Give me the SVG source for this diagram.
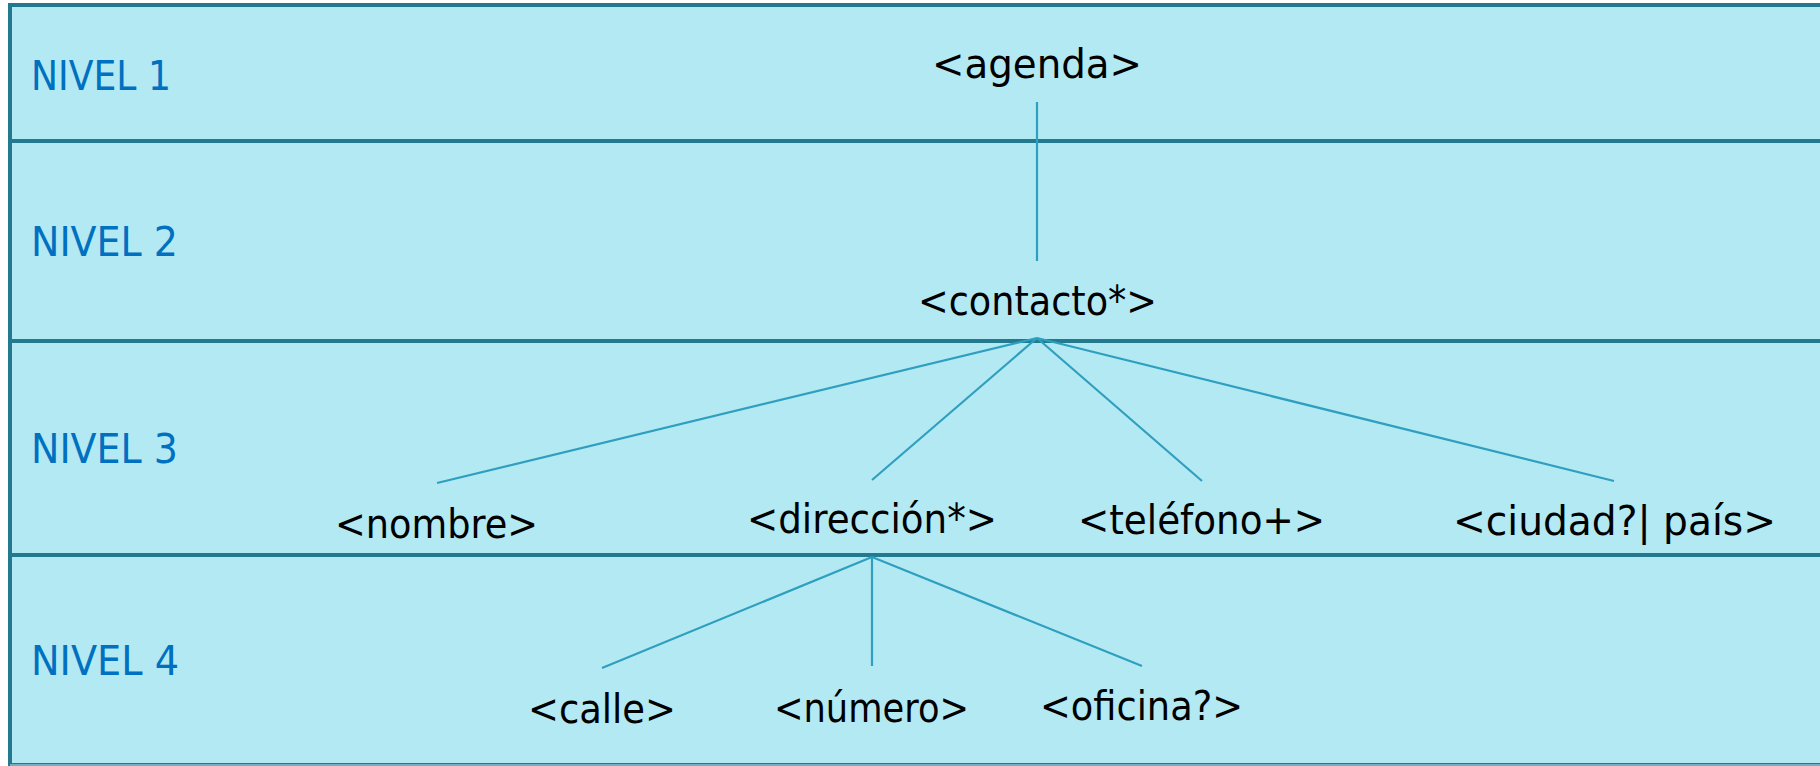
<svg xmlns="http://www.w3.org/2000/svg" width="1820" height="766" viewBox="0 0 1820 766">
<style>
.lvl{font-family:"DejaVu Sans","Liberation Sans",sans-serif;font-size:40px;fill:#0070C0}
.lbl{font-family:"DejaVu Sans","Liberation Sans",sans-serif;font-size:40px;fill:#000;text-anchor:middle}
.div{stroke:#237A8E;stroke-width:4;fill:none}
.con{stroke:#2E9FBE;stroke-width:2.2;fill:none}
</style>
<rect x="0" y="0" width="1820" height="766" fill="#fff"/>
<g id="frame">
<rect x="10" y="5" width="1830" height="760" fill="#B3E9F3" stroke="#237A8E" stroke-width="4"/>
<line class="div" x1="10" y1="141" x2="1820" y2="141"/>
<line class="div" x1="10" y1="341" x2="1820" y2="341"/>
<line class="div" x1="10" y1="555" x2="1820" y2="555"/>
<line x1="10" y1="765" x2="1820" y2="765" stroke="#6FB3C3" stroke-width="2"/>
</g>
<g id="levels">
<text class="lvl" x="31" y="90" textLength="140" lengthAdjust="spacingAndGlyphs">NIVEL 1</text>
<text class="lvl" x="31" y="256" textLength="147" lengthAdjust="spacingAndGlyphs">NIVEL 2</text>
<text class="lvl" x="31" y="463" textLength="147" lengthAdjust="spacingAndGlyphs">NIVEL 3</text>
<text class="lvl" x="31" y="675" textLength="148" lengthAdjust="spacingAndGlyphs">NIVEL 4</text>
</g>
<g id="connectors">
<line class="con" x1="1037" y1="102" x2="1037" y2="261"/>
<line class="con" x1="1037" y1="338" x2="437" y2="483"/>
<line class="con" x1="1037" y1="338" x2="872" y2="480"/>
<line class="con" x1="1037" y1="338" x2="1202" y2="481"/>
<line class="con" x1="1037" y1="338" x2="1614" y2="481"/>
<line class="con" x1="872" y1="557" x2="602" y2="668"/>
<line class="con" x1="872" y1="557" x2="872" y2="666"/>
<line class="con" x1="872" y1="557" x2="1142" y2="666"/>
</g>
<g id="agenda"><text class="lbl" x="1037" y="78" textLength="210" lengthAdjust="spacingAndGlyphs">&lt;agenda&gt;</text></g>
<g id="contacto"><text class="lbl" x="1037.5" y="315" textLength="239" lengthAdjust="spacingAndGlyphs">&lt;contacto*&gt;</text></g>
<g id="nombre"><text class="lbl" x="436.5" y="538" textLength="203" lengthAdjust="spacingAndGlyphs">&lt;nombre&gt;</text></g>
<g id="direccion"><text class="lbl" x="872" y="533" textLength="250" lengthAdjust="spacingAndGlyphs">&lt;dirección*&gt;</text></g>
<g id="telefono"><text class="lbl" x="1201.5" y="534" textLength="247" lengthAdjust="spacingAndGlyphs">&lt;teléfono+&gt;</text></g>
<g id="ciudad"><text class="lbl" x="1614.5" y="535" textLength="323" lengthAdjust="spacingAndGlyphs">&lt;ciudad?| país&gt;</text></g>
<g id="calle"><text class="lbl" x="602" y="723" textLength="148" lengthAdjust="spacingAndGlyphs">&lt;calle&gt;</text></g>
<g id="numero"><text class="lbl" x="871.5" y="722" textLength="195" lengthAdjust="spacingAndGlyphs">&lt;número&gt;</text></g>
<g id="oficina"><text class="lbl" x="1141.5" y="720" textLength="203" lengthAdjust="spacingAndGlyphs">&lt;oficina?&gt;</text></g>
</svg>
